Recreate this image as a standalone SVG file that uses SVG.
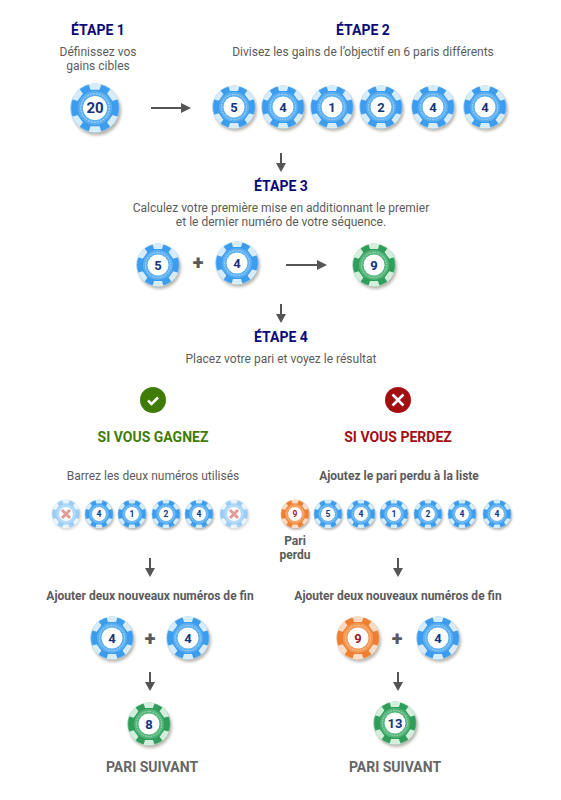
<svg xmlns="http://www.w3.org/2000/svg" width="561" height="800" viewBox="0 0 561 800">
<style>
text{font-family:Roboto,"Liberation Sans",sans-serif;text-anchor:middle}
.h{font-size:14px;font-weight:700;fill:#0a0a78}
.b{font-size:12px;fill:#5c5c5c}
.s{font-size:12px;font-weight:700;fill:#5a5a5a}
.r{font-size:14px;font-weight:700;fill:#666}
.g{font-size:14px;font-weight:700;fill:#3f7c07}
.x{font-size:14px;font-weight:700;fill:#a30e12}
.n{font-weight:700;fill:#12347e}
.m{font-weight:700;fill:#9c1c28}
.p{font-size:20px;font-weight:900;fill:#5a5a5a}
.blue{--d:#3c9cee;--l:#d6ecfb;--e:#5cb0f2}
.orange{--d:#ee7f30;--l:#fbdcc2;--e:#f39a58}
.green{--d:#2f9e5a;--l:#d3efdc;--e:#55b57a}
.seg{fill:var(--l)}
.conn line{stroke:#555;stroke-width:2}
.conn path{fill:#555}
</style>
<defs>
<filter id="sh" x="-30%" y="-30%" width="170%" height="170%"><feGaussianBlur stdDeviation="1.500"/></filter>
<g id="chip">
<circle cx="1.500" cy="2.500" r="21.500" fill="#8a8478" opacity=".6" filter="url(#sh)"/>
<circle r="21.500" fill="var(--d)"/>
<circle r="15" fill="var(--e)"/>
<g class="seg">
<path id="sg" d="M-5.500-20.800A21.500 21.500 0 0 1 5.500-20.800L4-16H-4Z"/>
<use href="#sg" transform="rotate(54)"/><use href="#sg" transform="rotate(126)"/><use href="#sg" transform="rotate(180)"/><use href="#sg" transform="rotate(234)"/><use href="#sg" transform="rotate(306)"/>
</g>
<circle r="12.500" fill="none" stroke="var(--l)" stroke-width=".7" stroke-dasharray="1.500 1.200"/>
<circle r="10.500" fill="#fff"/>
<circle r="21.300" fill="none" stroke="#e8f0f3" stroke-width=".4"/>
</g>
</defs>
<g id="connectors" class="conn">
<line x1="151" y1="108" x2="182" y2="108"/><path d="M181 103L191 108L181 113Z"/>
<line x1="281" y1="153" x2="281" y2="164"/><path d="M276 163L281 172L286 163Z"/>
<line x1="286" y1="265" x2="318" y2="265"/><path d="M317 260L327 265L317 270Z"/>
<line x1="281" y1="304" x2="281" y2="315"/><path d="M276 314L281 323L286 314Z"/>
<line x1="150" y1="558" x2="150" y2="569"/><path d="M145 568L150 577L155 568Z"/>
<line x1="398" y1="558" x2="398" y2="569"/><path d="M393 568L398 577L403 568Z"/>
<line x1="150" y1="672" x2="150" y2="683"/><path d="M145 682L150 691L155 682Z"/>
<line x1="398" y1="672" x2="398" y2="683"/><path d="M393 682L398 691L403 682Z"/>
</g>
<g id="etape1"><text class="h" x="98" y="35">ÉTAPE 1</text><text class="b" x="98" y="56">Définissez vos</text><text class="b" x="98" y="70">gains cibles</text></g>
<g id="etape2"><text class="h" x="363" y="35">ÉTAPE 2</text><text class="b" x="363" y="56">Divisez les gains de l’objectif en 6 paris différents</text></g>
<g id="etape3"><text class="h" x="281" y="191">ÉTAPE 3</text><text class="b" x="281" y="212">Calculez votre première mise en additionnant le premier</text><text class="b" x="281" y="226">et le dernier numéro de votre séquence.</text></g>
<g id="etape4"><text class="h" x="281" y="342">ÉTAPE 4</text><text class="b" x="281" y="363">Placez votre pari et voyez le résultat</text></g>
<g id="chip-20"><use href="#chip" class="blue" transform="translate(95 108) scale(1.14)"/><text class="n" x="95" y="113" font-size="15">20</text></g>
<g id="chip-a1"><use href="#chip" class="blue" x="234" y="107"/><text class="n" x="234" y="112" font-size="13">5</text></g>
<g id="chip-a2"><use href="#chip" class="blue" x="283" y="107"/><text class="n" x="283" y="112" font-size="13">4</text></g>
<g id="chip-a3"><use href="#chip" class="blue" x="332" y="107"/><text class="n" x="332" y="112" font-size="13">1</text></g>
<g id="chip-a4"><use href="#chip" class="blue" x="381" y="107"/><text class="n" x="381" y="112" font-size="13">2</text></g>
<g id="chip-a5"><use href="#chip" class="blue" x="433" y="107"/><text class="n" x="433" y="112" font-size="13">4</text></g>
<g id="chip-a6"><use href="#chip" class="blue" x="485" y="107"/><text class="n" x="485" y="112" font-size="13">4</text></g>
<g id="chip-b1"><use href="#chip" class="blue" x="158" y="265"/><text class="n" x="158" y="270" font-size="13">5</text></g>
<text class="p" x="198" y="269">+</text>
<g id="chip-b2"><use href="#chip" class="blue" x="237" y="263"/><text class="n" x="237" y="268" font-size="13">4</text></g>
<g id="chip-b3"><use href="#chip" class="green" x="374" y="265"/><text class="n" x="374" y="270" font-size="13">9</text></g>
<g id="win-icon"><circle cx="153" cy="400" r="13" fill="#3f7c07"/><path d="M148 400.500L151.500 404L158 397.500" fill="none" stroke="#fff" stroke-width="2.500"/></g>
<g id="lose-icon"><circle cx="398" cy="400" r="13" fill="#a30e12"/><path d="M392.500 394.500L403.500 405.500M403.500 394.500L392.500 405.500" stroke="#fff" stroke-width="2.500"/></g>
<text class="g" x="153" y="442">SI VOUS GAGNEZ</text>
<text class="x" x="398" y="442">SI VOUS PERDEZ</text>
<text class="b" x="153" y="480">Barrez les deux numéros utilisés</text>
<text class="s" x="399" y="480">Ajoutez le pari perdu à la liste</text>
<g id="c1" opacity=".5"><use href="#chip" class="blue" transform="translate(66 514) scale(.66)"/><path d="M62 510L70 518M70 510L62 518" stroke="#c0392b" stroke-width="3"/></g>
<g id="c2"><use href="#chip" class="blue" transform="translate(99 514) scale(.66)"/><text class="n" x="99" y="517" font-size="8.500">4</text></g>
<g id="c3"><use href="#chip" class="blue" transform="translate(132 514) scale(.66)"/><text class="n" x="132" y="517" font-size="8.500">1</text></g>
<g id="c4"><use href="#chip" class="blue" transform="translate(166 514) scale(.66)"/><text class="n" x="166" y="517" font-size="8.500">2</text></g>
<g id="c5"><use href="#chip" class="blue" transform="translate(199 514) scale(.66)"/><text class="n" x="199" y="517" font-size="8.500">4</text></g>
<g id="c6" opacity=".5"><use href="#chip" class="blue" transform="translate(234 514) scale(.66)"/><path d="M230 510L238 518M238 510L230 518" stroke="#c0392b" stroke-width="3"/></g>
<g id="d1"><use href="#chip" class="orange" transform="translate(295 514) scale(.66)"/><text class="m" x="295" y="517" font-size="8.500">9</text></g>
<g id="d2"><use href="#chip" class="blue" transform="translate(328 514) scale(.66)"/><text class="n" x="328" y="517" font-size="8.500">5</text></g>
<g id="d3"><use href="#chip" class="blue" transform="translate(361 514) scale(.66)"/><text class="n" x="361" y="517" font-size="8.500">4</text></g>
<g id="d4"><use href="#chip" class="blue" transform="translate(394 514) scale(.66)"/><text class="n" x="394" y="517" font-size="8.500">1</text></g>
<g id="d5"><use href="#chip" class="blue" transform="translate(428 514) scale(.66)"/><text class="n" x="428" y="517" font-size="8.500">2</text></g>
<g id="d6"><use href="#chip" class="blue" transform="translate(462 514) scale(.66)"/><text class="n" x="462" y="517" font-size="8.500">4</text></g>
<g id="d7"><use href="#chip" class="blue" transform="translate(497 514) scale(.66)"/><text class="n" x="497" y="517" font-size="8.500">4</text></g>
<text class="s" x="295" y="545">Pari</text>
<text class="s" x="295" y="559">perdu</text>
<text class="s" x="150" y="600">Ajouter deux nouveaux numéros de fin</text>
<text class="s" x="398" y="600">Ajouter deux nouveaux numéros de fin</text>
<g id="e1"><use href="#chip" class="blue" x="112" y="638"/><text class="n" x="112" y="643" font-size="13">4</text></g>
<text class="p" x="150" y="645">+</text>
<g id="e2"><use href="#chip" class="blue" x="188" y="638"/><text class="n" x="188" y="643" font-size="13">4</text></g>
<g id="f1"><use href="#chip" class="orange" x="358" y="638"/><text class="m" x="358" y="643" font-size="13">9</text></g>
<text class="p" x="397" y="645">+</text>
<g id="f2"><use href="#chip" class="blue" x="438" y="638"/><text class="n" x="438" y="643" font-size="13">4</text></g>
<g id="e3"><use href="#chip" class="green" x="149" y="724"/><text class="n" x="149" y="729" font-size="13">8</text></g>
<g id="f3"><use href="#chip" class="green" x="395" y="723"/><text class="n" x="395" y="728" font-size="13">13</text></g>
<text class="r" x="152" y="772">PARI SUIVANT</text>
<text class="r" x="395" y="772">PARI SUIVANT</text>
</svg>
